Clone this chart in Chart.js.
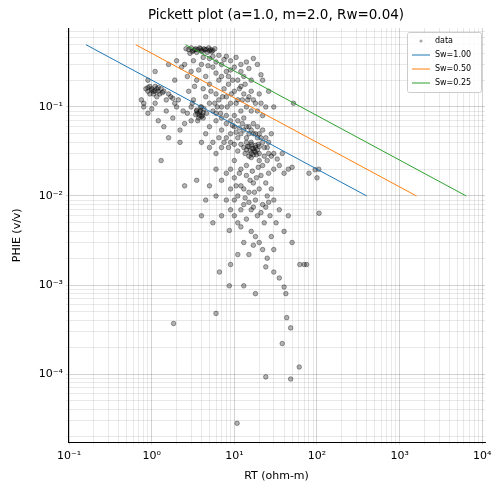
<!DOCTYPE html>
<html><head><meta charset="utf-8">
<script src="https://cdn.jsdelivr.net/npm/chart.js@4"></script>
<style>html,body{margin:0;padding:0;background:#fff}#w{width:502px;height:495px}</style>
</head><body><div id="w"><canvas id="c"></canvas></div>
<script>
const title = "Pickett plot (a=1.0, m=2.0, Rw=0.04)";
const xLabel = "RT (ohm-m)";
const yLabel = "PHIE (v/v)";
const seriesNames = ["data", "Sw=1.00", "Sw=0.50", "Sw=0.25"];
const lineColors = ["#1f77b4", "#ff7f0e", "#2ca02c"];
// Sw lines: endpoints (RT, PHIE)
const lineRT = [[0.16, 400], [0.64, 1600], [2.56, 6400]];
const linePHIE = [0.5, 0.01];
// scatter points
const rtPairs = [
[2.6,0.45],[2.8,0.44],[3.0,0.46],[3.2,0.43],[3.4,0.45],[3.6,0.44],[3.8,0.46],[4.0,0.43],[4.3,0.45],[4.6,0.44],[4.9,0.46],[5.2,0.44],[5.5,0.43],[5.8,0.45],[3.1,0.42],[3.5,0.41],[4.1,0.42],[4.7,0.41],[5.3,0.42],[2.9,0.40],[3.3,0.44],[4.4,0.44],[5.0,0.43],[3.9,0.45],
[0.85,0.16],[0.9,0.15],[0.95,0.17],[1.0,0.16],[1.05,0.15],[1.1,0.17],[1.15,0.16],[1.2,0.15],[1.3,0.16],[1.4,0.15],[0.95,0.14],[1.05,0.14],[1.15,0.13],[1.25,0.14],[1.5,0.12],[1.7,0.13],[1.9,0.11],[2.1,0.12],[1.0,0.155],[1.1,0.15],[0.9,0.165],[1.2,0.165],[1.35,0.145],[1.6,0.14],[1.8,0.125],[2.0,0.1],
[0.75,0.12],[0.8,0.10],[0.9,0.085],[1.0,0.095],[1.2,0.07],[1.4,0.06],[1.6,0.045],[1.3,0.025],[1.8,0.075],[2.2,0.055],[0.9,0.2],[1.1,0.25],[1.6,0.3],[2.0,0.33],[2.3,0.28],[0.8,0.11],[1.1,0.11],[1.5,0.09],[2.4,0.09],[2.5,0.065],[2.2,0.04],[1.9,0.2],
[2.5,0.3],[3,0.25],[3.5,0.2],[4,0.3],[4.5,0.22],[5,0.35],[5.5,0.28],[6,0.32],[7,0.3],[8,0.25],[9,0.33],[10,0.28],[12,0.3],[14,0.32],[17,0.35],[19,0.3],[12,0.25],[6.5,0.38],[8,0.37],[11,0.2],
[3.2,0.33],[4.2,0.36],[5.5,0.37],[7.5,0.34],[9,0.26],[10.5,0.36],[13,0.22],[15,0.27],[16,0.2],[3.7,0.26],[4.8,0.29],[6.5,0.2],[8.5,0.22],[2.7,0.22],[3.3,0.17],
[2.8,0.15],[3.2,0.12],[3.5,0.09],[3.8,0.08],[4.2,0.075],[3,0.07],[4,0.1],[4.5,0.13],[5,0.11],[5.5,0.09],[6,0.14],[6.5,0.12],[7,0.1],[7.5,0.16],[8,0.13],[8.5,0.18],[9,0.11],[10,0.15],[11,0.12],[12,0.17],[13,0.14],[14,0.1],[15,0.13],[16,0.09],[18,0.11],[20,0.14],[22,0.08],[24,0.1],[9.5,0.2],[7,0.22],[5,0.18],[6,0.24],
[4.2,0.16],[5.2,0.15],[6.2,0.1],[7.2,0.13],[8.2,0.1],[9.2,0.14],[10.5,0.11],[11.5,0.16],[12.5,0.12],[13.5,0.18],[14.5,0.12],[16,0.15],[17,0.12],[19,0.09],[21,0.11],[3,0.1],[2.7,0.085],[3.1,0.11],[4.6,0.085],[5.8,0.11],[6.8,0.085],
[3.6,0.085],[3.9,0.09],[4.1,0.08],[3.7,0.075],[4.3,0.095],[3.4,0.082],[3.8,0.088],[4.0,0.078],[3.5,0.092],[4.2,0.086],[3.6,0.07],[3.9,0.1],
[5,0.06],[6,0.07],[7,0.055],[8,0.065],[9,0.05],[10,0.06],[11,0.07],[12,0.05],[13,0.055],[14,0.045],[15,0.06],[16,0.04],[17,0.05],[18,0.035],[19,0.045],[20,0.03],[22,0.04],[25,0.035],[28,0.05],[30,0.03],[6.5,0.045],[7.5,0.04],[8.5,0.035],[4.5,0.05],[5.5,0.04],[10,0.08],[12,0.09],
[6,0.085],[7,0.075],[8,0.08],[9,0.07],[9.5,0.062],[10.5,0.052],[11,0.045],[11.5,0.058],[12.5,0.065],[13,0.075],[14,0.06],[15,0.05],[16,0.055],[17,0.065],[18,0.05],[19,0.06],[20,0.05],[21,0.045],[22,0.055],[23,0.035],[24,0.045],[26,0.04],[8,0.045],[9,0.04],[10,0.038],[11,0.032],[7,0.035],[6,0.03],[5,0.035],[4,0.04],
[13,0.035],[14,0.033],[15,0.036],[16,0.03],[17,0.034],[18,0.031],[15,0.028],[19,0.033],[14,0.04],[20,0.036],[12,0.038],[16,0.038],[17,0.029],[18,0.037],[15.5,0.032],[16.5,0.034],[17.5,0.032],[14.5,0.036],[18.5,0.029],[16,0.027],[13.5,0.03],[19.5,0.038],
[25,0.025],[30,0.02],[35,0.022],[28,0.028],[40,0.018],[45,0.02],[80,0.018],[95,0.0197],[100,0.016],[105,0.02],[22,0.022],[26,0.03],[33,0.026],[38,0.03],[20,0.025],[23,0.028],
[52,0.11],[21,0.23],[50,0.021],[26,0.15],[30,0.1],[22,0.2],
[6,0.02],[7,0.015],[8,0.018],[9,0.012],[10,0.025],[10,0.016],[11,0.01],[12,0.02],[12,0.013],[13,0.008],[14,0.017],[15,0.011],[16,0.007],[17,0.014],[18,0.009],[19,0.006],[20,0.012],[22,0.008],[23,0.005],[25,0.01],[27,0.006],[30,0.009],[32,0.005],[35,0.007],[40,0.004],[45,0.006],[50,0.003],
[9,0.02],[10.5,0.013],[11.5,0.018],[13,0.012],[14,0.022],[15.5,0.015],[16.5,0.019],[17.5,0.011],[18.5,0.016],[19.5,0.021],[21,0.017],[24,0.014],[26,0.018],[28,0.012],[13.5,0.0095],[15,0.0085],[17,0.0075],[21,0.0065],[24,0.0075],[26,0.0085],[12,0.007],[10,0.009],
[9,0.007],[10,0.006],[11,0.005],[12,0.0045],[14,0.0055],[16,0.004],[18,0.0035],[20,0.003],[22,0.0025],[25,0.002],[28,0.0035],[30,0.0025],[8,0.009],[7,0.006],[6,0.01],[5,0.013],[4.5,0.009],[4,0.006],[5.5,0.005],[3.5,0.015],[2.5,0.013],
[62,0.0017],[70,0.0017],[106,0.0064],[8.7,0.0041],[13,0.003],[15,0.0022],[17,0.0028],[24,0.0016],[35,0.0012],[6.6,0.0014],[8.7,0.00098],[13,0.00098],[18,0.0008],[43,0.00043],[48,0.00033],[38,0.00022],[24,0.000093],[48,0.000088],[61,0.00012],[10.8,0.000028],[1.84,0.00037],[6,0.00048],[40,0.00095],[42,0.0008],[30,0.0014],[75,0.0017],[9,0.0017],[11,0.0022]
];
const rt = rtPairs.map(p => p[0]);
const phie = rtPairs.map(p => p[1]);
const xTicks = [0.1, 1, 10, 100, 1000, 10000];
const yTicks = [1e-4, 1e-3, 1e-2, 1e-1];

const sup = {"-":"⁻","0":"⁰","1":"¹","2":"²","3":"³","4":"⁴","5":"⁵","6":"⁶","7":"⁷","8":"⁸","9":"⁹"};
function pow10Label(v){const e=Math.round(Math.log10(v));if(Math.abs(Math.log10(v)-e)>1e-6)return "";return "10"+String(e).split("").map(c=>sup[c]).join("");}
function isMajor(v){const l=Math.log10(v);return Math.abs(l-Math.round(l))<1e-6;}

const datasets = [{
  label: seriesNames[0], type:'scatter',
  data: rt.map((x,i)=>({x:x,y:phie[i]})),
  backgroundColor:'rgba(0,0,0,0.3)', borderColor:'rgba(0,0,0,0.45)', borderWidth:0.8, pointRadius:2.3, order:2
}];
lineRT.forEach((r,i)=>datasets.push({
  label: seriesNames[i+1], type:'line',
  data:[{x:r[0],y:linePHIE[0]},{x:r[1],y:linePHIE[1]}],
  borderColor:lineColors[i], borderWidth:1, pointRadius:0, fill:false, order:1
}));

const legendPlugin = {id:'lg', afterDraw(ch){
  const c=ch.ctx; const x0=407,y0=32,w=74,h=60;
  c.save(); c.fillStyle='rgba(255,255,255,0.85)'; c.strokeStyle='#ccc'; c.lineWidth=1;
  c.beginPath(); c.roundRect(x0+0.5,y0+0.5,w,h,2); c.fill(); c.stroke();
  c.font='8px "DejaVu Sans"'; c.textBaseline='middle'; c.fillStyle='#000';
  const rows=[41,55,69,83];
  c.fillStyle='rgba(0,0,0,0.35)'; c.beginPath(); c.arc(421,rows[0],1.5,0,7); c.fill();
  c.fillStyle='#000'; c.fillText(seriesNames[0],435,rows[0]);
  for(let i=0;i<3;i++){c.strokeStyle=lineColors[i];c.beginPath();c.moveTo(412,rows[i+1]);c.lineTo(430,rows[i+1]);c.stroke();
    c.fillStyle='#000';c.fillText(seriesNames[i+1],435,rows[i+1]);}
  c.restore();
}};
const titlePlugin = {id:'tt', afterDraw(ch){const c=ch.ctx;c.save();c.font='13.5px "DejaVu Sans"';c.textAlign='center';c.textBaseline='middle';c.fillStyle='#000';c.fillText(title,276,15);c.restore();}};

const gridCol = ctx => (ctx.tick && isMajor(ctx.tick.value)) ? 'rgba(0,0,0,0.22)' : 'rgba(0,0,0,0.11)';
new Chart(document.getElementById('c'), {
  type:'scatter', data:{datasets},
  options:{responsive:true, maintainAspectRatio:false, animation:false,
    layout:{padding:{top:28,right:17,left:7,bottom:12}},
    plugins:{legend:{display:false}, tooltip:{enabled:false}},
    scales:{
      x:{type:'logarithmic', min:0.097, max:10800,
        afterBuildTicks(s){const t=[];for(let e=-2;e<=4;e++)for(let m=1;m<10;m++){const v=m*Math.pow(10,e);if(v>=s.min&&v<=s.max)t.push({value:v});}s.ticks=t;},
        ticks:{autoSkip:false,maxRotation:0,color:'#000',font:{family:'DejaVu Sans',size:11},padding:5,callback:v=>pow10Label(v)},
        grid:{color:gridCol, lineWidth:0.8, tickLength:ctx=>(ctx.tick&&isMajor(ctx.tick.value))?4:2},
        border:{color:'#000'},
        title:{display:true,text:xLabel,color:'#000',font:{family:'DejaVu Sans',size:11},padding:{top:2,bottom:0}}},
      y:{type:'logarithmic', min:1.7e-5, max:0.77,
        afterBuildTicks(s){const t=[];for(let e=-5;e<=0;e++)for(let m=1;m<10;m++){const v=m*Math.pow(10,e);if(v>=s.min&&v<=s.max)t.push({value:v});}s.ticks=t;},
        afterFit(s){s.width=61;},
        ticks:{autoSkip:false,color:'#000',font:{family:'DejaVu Sans',size:11},padding:3,callback:v=>pow10Label(v)},
        grid:{color:gridCol, lineWidth:0.8, tickLength:ctx=>(ctx.tick&&isMajor(ctx.tick.value))?4:2},
        border:{color:'#000'},
        title:{display:true,text:yLabel,color:'#000',font:{family:'DejaVu Sans',size:11},padding:{bottom:4}}}
    }},
  plugins:[legendPlugin,titlePlugin]
});
</script></body></html>
